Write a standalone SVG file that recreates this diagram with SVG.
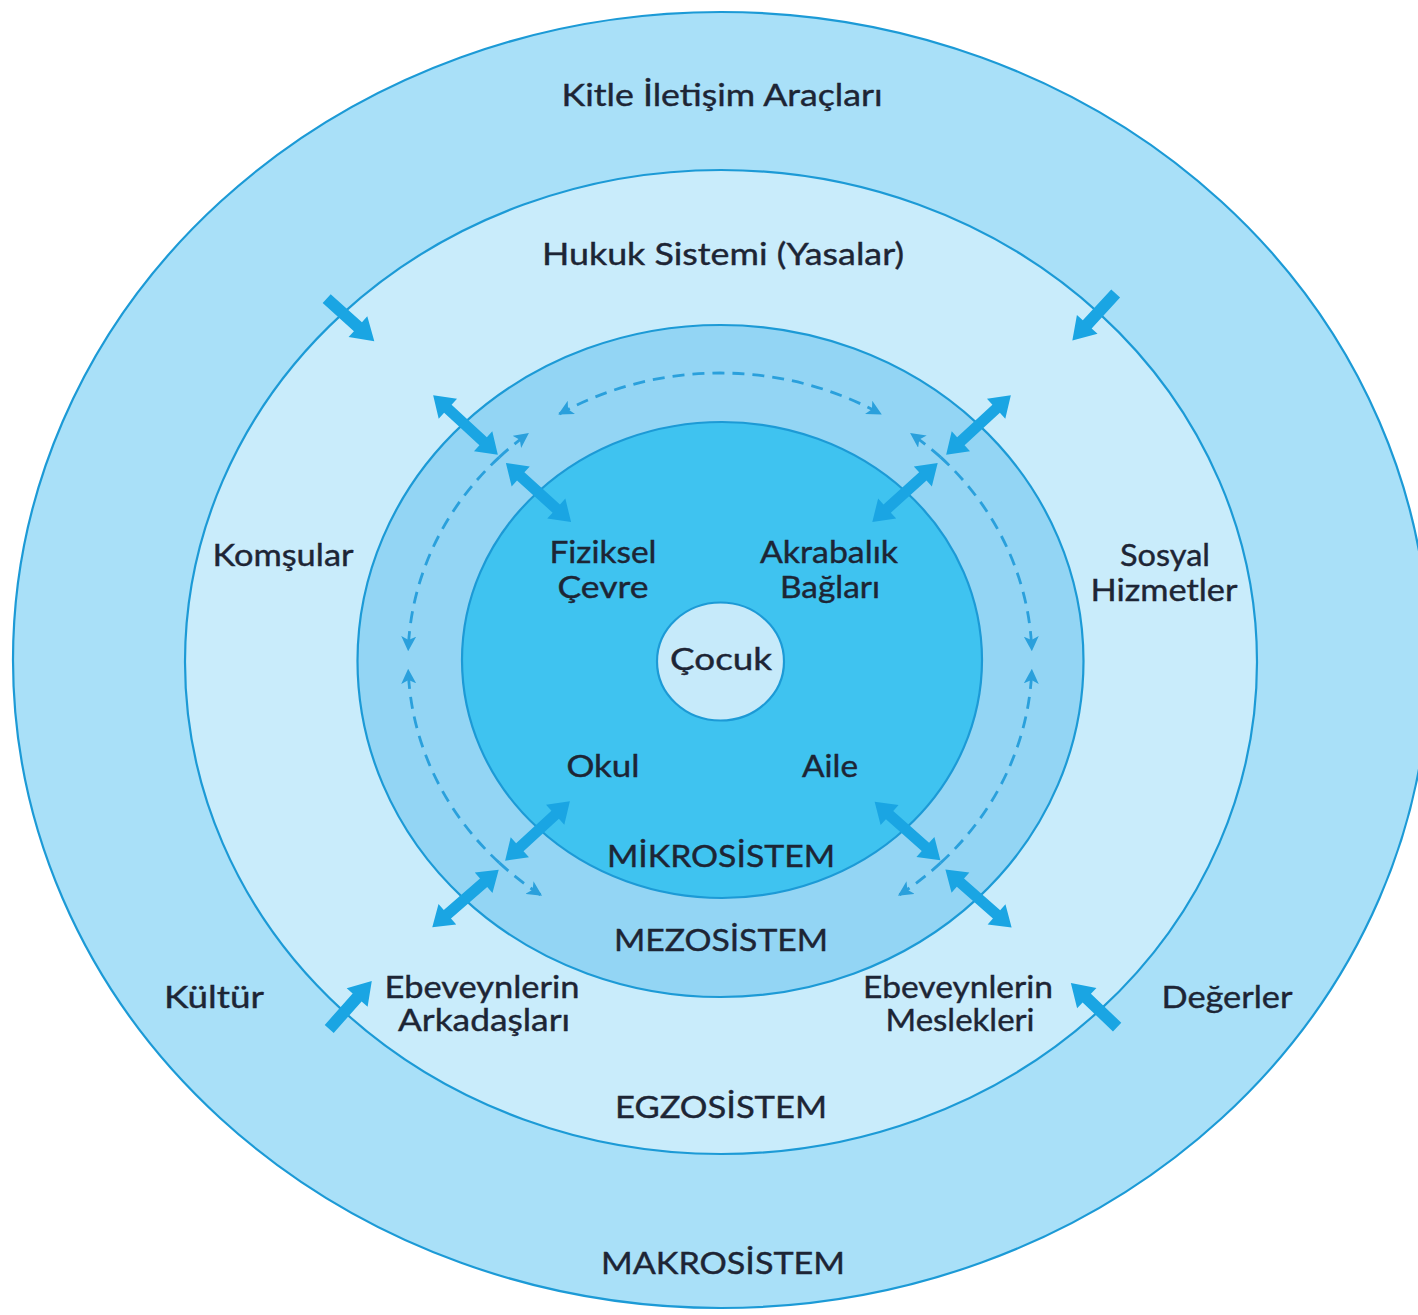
<svg xmlns="http://www.w3.org/2000/svg" width="1418" height="1315" viewBox="0 0 1418 1315">
  <defs>
    <style>
      .ring { stroke: #1c9ad6; stroke-width: 2.2; }
      .lbl { font-family: Lato, "Liberation Sans", "DejaVu Sans", sans-serif; font-size: 30px; fill: #1d2535; text-anchor: middle; stroke: #1d2535; stroke-width: 0.4; }
      .arr { fill: #1aa5e3; }
      .dash { fill: none; stroke: #2aa0dc; stroke-width: 2.8; stroke-dasharray: 12 8; }
    </style>
    <marker id="dh" viewBox="0 0 12 12" refX="11" refY="6" markerWidth="15" markerHeight="15" markerUnits="userSpaceOnUse" orient="auto-start-reverse">
      <path d="M0,0 L12,6 L0,12 L3,6 z" fill="#2aa0dc"/>
    </marker>
    <polygon id="dbl" points="-44,0 -24,-13.5 -24,-5.5 24,-5.5 24,-13.5 44,0 24,13.5 24,5.5 -24,5.5 -24,13.5"/>
    <polygon id="sgl" points="-32,-6 10,-6 10,-14 32,0 10,14 10,6 -32,6"/>
  </defs>

  <rect width="1418" height="1315" fill="#ffffff"/>

  <g id="makrosistem">
    <ellipse cx="721" cy="660" rx="708" ry="648" fill="#a9e0f8" class="ring"/>
  </g>
  <g id="egzosistem">
    <ellipse cx="721" cy="662" rx="536" ry="492" fill="#c9ecfb" class="ring"/>
  </g>
  <g id="mezosistem">
    <ellipse cx="720.5" cy="661" rx="363" ry="336" fill="#93d5f4" class="ring"/>
  </g>
  <g id="mikrosistem">
    <ellipse cx="722" cy="660" rx="260" ry="238" fill="#3fc3f0" class="ring"/>
  </g>
  <g id="cocuk">
    <ellipse cx="720.5" cy="661.5" rx="63.5" ry="59" fill="#c6eafa" class="ring"/>
    <text class="lbl" x="721" y="670" textLength="102" lengthAdjust="spacingAndGlyphs">Çocuk</text>
  </g>

  <g id="connectors">
    <path class="dash" d="M499.4,457.1 A312,287 0 0 0 408.2,650" marker-end="url(#dh)"/>
    <path class="dash" d="M499.4,862.9 A312,287 0 0 1 408.2,670" marker-end="url(#dh)"/>
    <path class="dash" d="M940.6,457.1 A312,287 0 0 1 1031.8,650" marker-end="url(#dh)"/>
    <path class="dash" d="M940.6,862.9 A312,287 0 0 0 1031.8,670" marker-end="url(#dh)"/>
    <path class="dash" d="M499.4,457.1 A312,287 0 0 1 527.9,433.8" marker-end="url(#dh)"/>
    <path class="dash" d="M559.3,414 A312,287 0 0 1 880.7,414" marker-start="url(#dh)" marker-end="url(#dh)"/>
    <path class="dash" d="M940.6,457.1 A312,287 0 0 0 911.1,433.8" marker-end="url(#dh)"/>
    <path class="dash" d="M499.4,862.9 A312,287 0 0 0 541,895.1" marker-end="url(#dh)"/>
    <path class="dash" d="M940.6,862.9 A312,287 0 0 1 899,895.1" marker-end="url(#dh)"/>

    <use href="#dbl" class="arr" transform="translate(465.5,425) rotate(42.7)"/>
    <use href="#dbl" class="arr" transform="translate(538.5,492.5) rotate(42.2)"/>
    <use href="#dbl" class="arr" transform="translate(978.5,425) rotate(-42.7)"/>
    <use href="#dbl" class="arr" transform="translate(905,492.5) rotate(-42)"/>
    <use href="#dbl" class="arr" transform="translate(537.5,831) rotate(-42.6)"/>
    <use href="#dbl" class="arr" transform="translate(465.5,898.5) rotate(-41)"/>
    <use href="#dbl" class="arr" transform="translate(907.5,831) rotate(41.7)"/>
    <use href="#dbl" class="arr" transform="translate(978.5,898.5) rotate(41.2)"/>

    <use href="#sgl" class="arr" transform="translate(350.5,320) rotate(41.9)"/>
    <use href="#sgl" class="arr" transform="translate(1094,317) rotate(132.6)"/>
    <use href="#sgl" class="arr" transform="translate(350.5,1005) rotate(-48.3)"/>
    <use href="#sgl" class="arr" transform="translate(1094,1005) rotate(-136.3)"/>
  </g>

  <g id="labels">
    <text class="lbl" x="722" y="106" textLength="321" lengthAdjust="spacingAndGlyphs">Kitle İletişim Araçları</text>
    <text class="lbl" x="723" y="265" textLength="362" lengthAdjust="spacingAndGlyphs">Hukuk Sistemi (Yasalar)</text>
    <text class="lbl" x="283" y="566" textLength="141" lengthAdjust="spacingAndGlyphs">Komşular</text>
    <text class="lbl" x="1165" y="566" textLength="90" lengthAdjust="spacingAndGlyphs">Sosyal</text>
    <text class="lbl" x="1164" y="601" textLength="147" lengthAdjust="spacingAndGlyphs">Hizmetler</text>
    <text class="lbl" x="603" y="563" textLength="107" lengthAdjust="spacingAndGlyphs">Fiziksel</text>
    <text class="lbl" x="603" y="598" textLength="91" lengthAdjust="spacingAndGlyphs">Çevre</text>
    <text class="lbl" x="829" y="563" textLength="138" lengthAdjust="spacingAndGlyphs">Akrabalık</text>
    <text class="lbl" x="830" y="598" textLength="100" lengthAdjust="spacingAndGlyphs">Bağları</text>
    <text class="lbl" x="603" y="777" textLength="73" lengthAdjust="spacingAndGlyphs">Okul</text>
    <text class="lbl" x="830" y="777" textLength="56" lengthAdjust="spacingAndGlyphs">Aile</text>
    <text class="lbl" x="721" y="867" textLength="228" lengthAdjust="spacingAndGlyphs">MİKROSİSTEM</text>
    <text class="lbl" x="721" y="951" textLength="214" lengthAdjust="spacingAndGlyphs">MEZOSİSTEM</text>
    <text class="lbl" x="214" y="1008" textLength="100" lengthAdjust="spacingAndGlyphs">Kültür</text>
    <text class="lbl" x="482" y="998" textLength="195" lengthAdjust="spacingAndGlyphs">Ebeveynlerin</text>
    <text class="lbl" x="484" y="1031" textLength="172" lengthAdjust="spacingAndGlyphs">Arkadaşları</text>
    <text class="lbl" x="958" y="998" textLength="190" lengthAdjust="spacingAndGlyphs">Ebeveynlerin</text>
    <text class="lbl" x="960" y="1031" textLength="149" lengthAdjust="spacingAndGlyphs">Meslekleri</text>
    <text class="lbl" x="1227" y="1008" textLength="131" lengthAdjust="spacingAndGlyphs">Değerler</text>
    <text class="lbl" x="721" y="1118" textLength="212" lengthAdjust="spacingAndGlyphs">EGZOSİSTEM</text>
    <text class="lbl" x="723" y="1274" textLength="244" lengthAdjust="spacingAndGlyphs">MAKROSİSTEM</text>
  </g>
</svg>
